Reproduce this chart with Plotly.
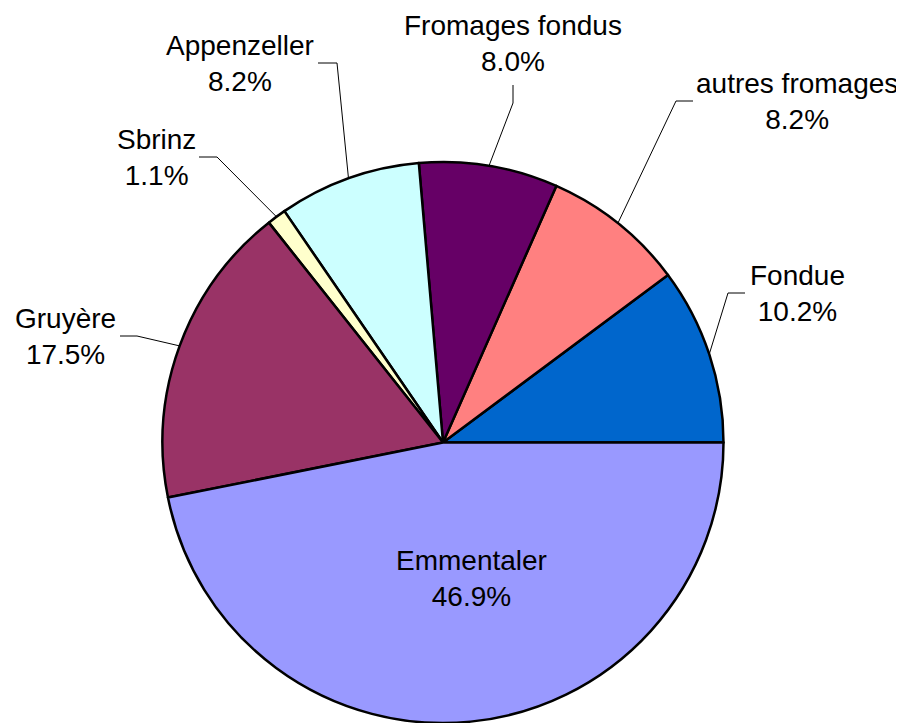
import math
import plotly.graph_objects as go

# ---- data ----
labels = ["Fondue", "autres fromages", "Fromages fondus", "Appenzeller",
          "Sbrinz", "Gruyère", "Emmentaler"]
values = [10.2, 8.2, 8.0, 8.2, 1.1, 17.5, 46.9]
colors = ["#0066CC", "#FF8080", "#660066", "#CCFFFF", "#FFFFCC", "#993366", "#9999FF"]

# ---- layout ----
PAGE_OFF = 8                 # browser default body margin
W, H = 904 - PAGE_OFF, 723 - PAGE_OFF
CX, CY, R = 443, 442.5, 280.5    # pie centre / radius in page pixels
FONT = dict(family="Liberation Sans, Arial, sans-serif", size=28, color="black")

# label block centre, leader elbow, leader end (page pixels); None = no leader
label_layout = {
    "Fondue":          ((797, 293.5), (728, 293), (745, 293)),
    "autres fromages": ((797, 102),   (676, 101), (693, 101)),
    "Fromages fondus": ((513, 44),    (513, 103), (513, 85)),
    "Appenzeller":     ((240, 63.5),  (337, 63),  (318, 63)),
    "Sbrinz":          ((156, 157),   (217, 157), (199, 157)),
    "Gruyère":         ((65, 336),    (137, 336), (120, 336)),
    "Emmentaler":      ((471, 578.5), None, None),
}

def px(x):
    return (x - PAGE_OFF) / W

def py(y):
    return 1 - (y - PAGE_OFF) / H

total = sum(values)
fcx, fcy = CX - PAGE_OFF, CY - PAGE_OFF
fig = go.Figure(go.Pie(
    labels=labels, values=values, sort=False,
    direction="counterclockwise", rotation=90 - values[0] / total * 360,
    marker=dict(colors=colors, line=dict(color="black", width=2.5)),
    textinfo="none", hoverinfo="label+percent", showlegend=False,
    domain=dict(x=[(fcx - R) / W, (fcx + R) / W],
                y=[0, 2 * R / H]),
))

cum = 0.0
annotations, shapes = [], []
for lab, v in zip(labels, values):
    mid = (cum + v / 2) / total * 2 * math.pi
    cum += v
    pct = v / total * 100
    (tx, ty), elbow, end = label_layout[lab]
    annotations.append(dict(
        x=px(tx), y=py(ty), xref="paper", yref="paper",
        text=f"{lab}<br>{pct:.1f}%", showarrow=False,
        xanchor="center", yanchor="middle", align="center", font=FONT,
    ))
    if elbow is not None:
        sx = CX + R * math.cos(mid)
        sy = CY - R * math.sin(mid)
        path = (f"M {px(sx)},{py(sy)} L {px(elbow[0])},{py(elbow[1])} "
                f"L {px(end[0])},{py(end[1])}")
        shapes.append(dict(type="path", path=path, xref="paper", yref="paper",
                           line=dict(color="black", width=1), layer="above"))

fig.update_layout(
    width=W, height=H,
    margin=dict(l=0, r=0, t=0, b=0),
    paper_bgcolor="white", plot_bgcolor="white",
    annotations=annotations, shapes=shapes,
)

fig.write_html("out.html")
